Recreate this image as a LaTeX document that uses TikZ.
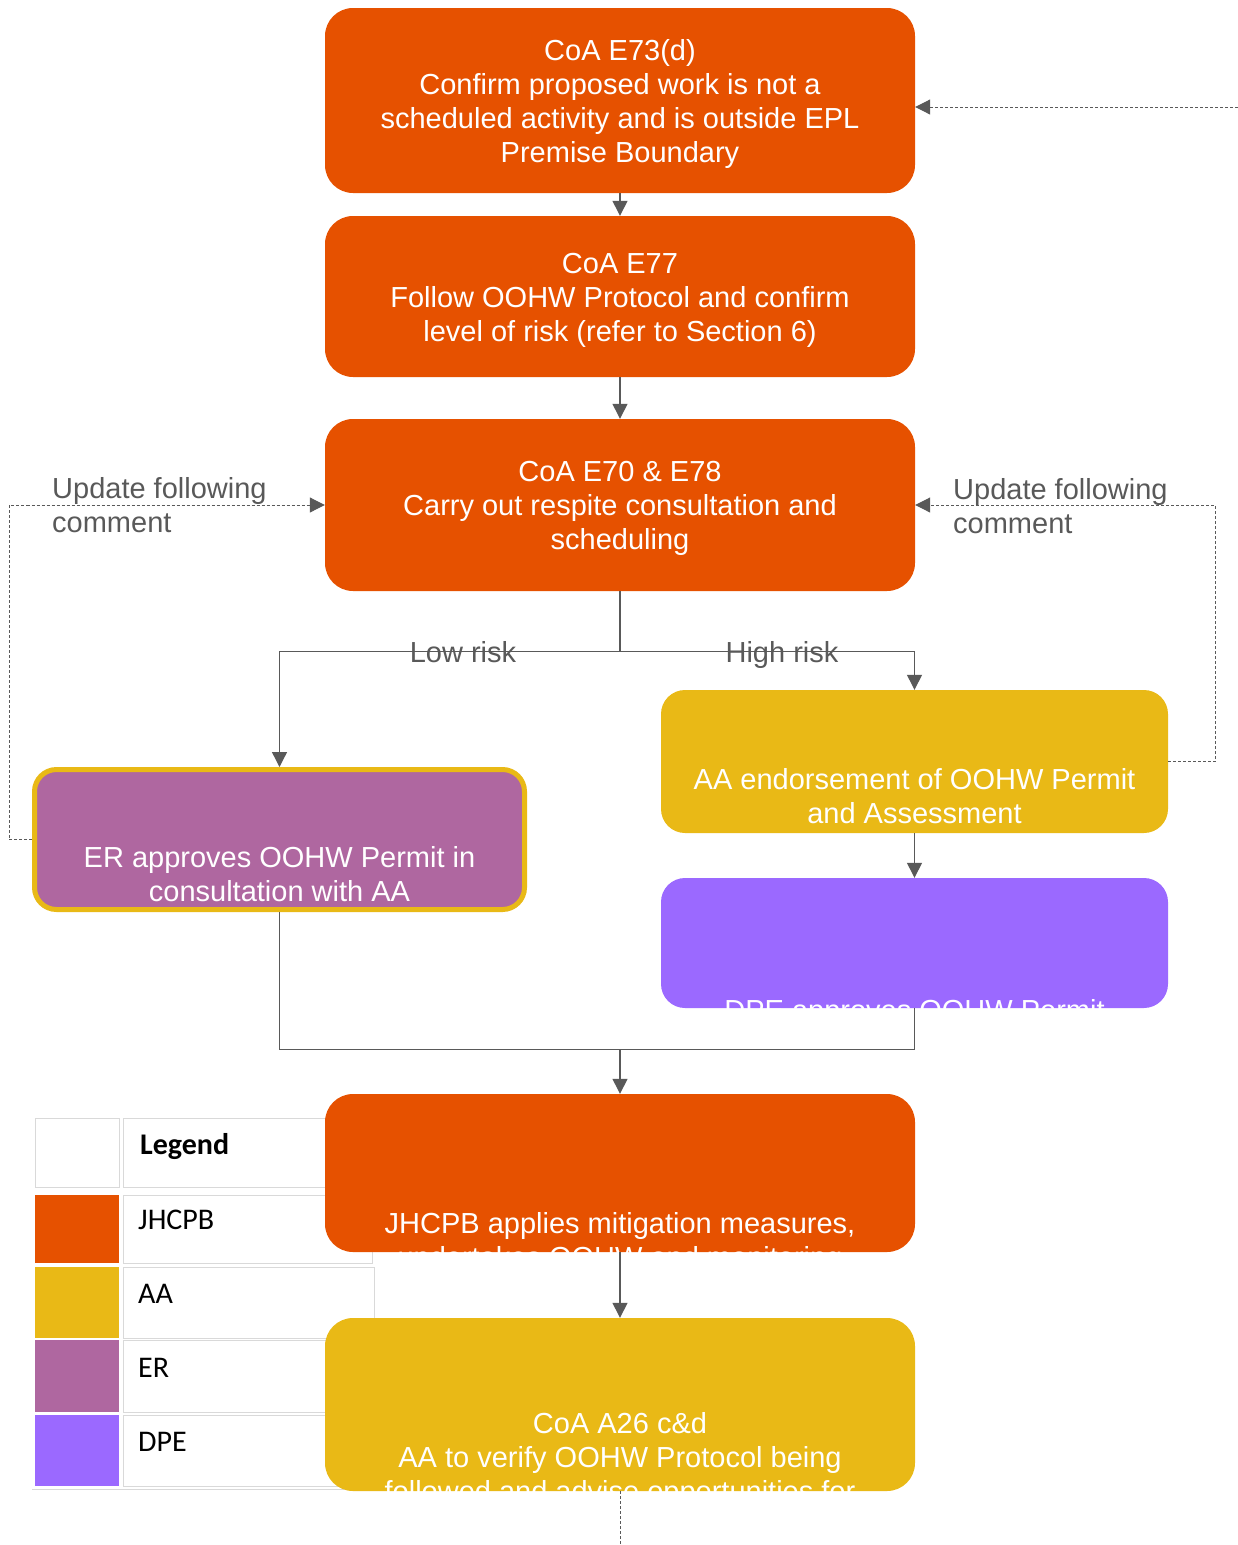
\documentclass[tikz,border=0pt]{standalone}
\usepackage{fontspec}
\setmainfont{Liberation Sans}
\newfontfamily\legfont{Carlito}
\usetikzlibrary{arrows.meta,calc}
\definecolor{jorange}{HTML}{E65100}
\definecolor{aayellow}{HTML}{E9B916}
\definecolor{erpurple}{HTML}{AF67A0}
\definecolor{dpeviolet}{HTML}{9B69FF}
\definecolor{lgrey}{HTML}{595959}
\definecolor{cellgrey}{HTML}{D9D9D9}
\newcommand{\mainfs}{\fontsize{29}{34}\selectfont}
\newcommand{\legfs}{\fontsize{30}{36}\selectfont\legfont}
\begin{document}
\begin{tikzpicture}[x=1pt,y=-1pt,
  box/.style={rounded corners=28pt, minimum width=590pt, inner sep=0pt, align=center, text=white, font=\mainfs},
  intext/.style={text=white, font=\mainfs, align=center, inner sep=0pt},
  conn/.style={draw=lgrey, line width=1.3pt, -{Triangle[width=15pt,length=15pt]}},
  plainline/.style={draw=lgrey, line width=1.3pt},
  dconn/.style={draw=lgrey, line width=1pt, dash pattern=on 3pt off 2pt, -{Triangle[width=15pt,length=15pt]}},
  dline/.style={draw=lgrey, line width=1pt, dash pattern=on 3pt off 2pt},
  greytext/.style={text=lgrey, font=\mainfs, inner sep=0pt},
  cell/.style={draw=cellgrey, line width=1pt},
  legtext/.style={anchor=west, font=\legfs, inner sep=0pt, text=black},
]
\useasboundingbox (0,0) rectangle (1238,1545);

% ---------- legend table (behind the boxes) ----------
\draw[cell] (35,1118) rectangle (119,1187);
\draw[cell] (123,1118) rectangle (345,1187);
\fill[jorange] (35,1195) rectangle (119,1263);
\draw[cell] (123,1195) rectangle (372,1263);
\fill[aayellow] (35,1267) rectangle (119,1338);
\draw[cell] (123,1267) rectangle (374,1338);
\fill[erpurple] (35,1340) rectangle (119,1412);
\draw[cell] (123,1340) rectangle (345,1412);
\fill[dpeviolet] (35,1415) rectangle (119,1486);
\draw[cell] (123,1415) rectangle (345,1486);
\draw[cell] (32,1489) -- (345,1489);
\node[legtext, font=\legfs\bfseries] (legtitle) at (140,1147) {Legend};
\node[legtext] (legj) at (138,1220) {JHCPB};
\node[legtext] (lega) at (138,1294) {AA};
\node[legtext] (lege) at (138,1368) {ER};
\node[legtext] (legd) at (138,1442) {DPE};

\coordinate (rin) at (1238,107);
\coordinate (bot) at (620,1545);
\coordinate (mj) at (620,1049.5);

% ---------- boxes ----------
\node[box, fill=jorange, minimum height=185pt,
  path picture={\node[intext] at ([yshift=-3.5pt]path picture bounding box.center)
    {CoA E73(d)\\Confirm proposed work is not a\\scheduled activity and is outside EPL\\Premise Boundary};}] (b1) at (620,100.5) {};
\node[box, fill=jorange, minimum height=161pt,
  path picture={\node[intext] at ([yshift=-3.5pt]path picture bounding box.center)
    {CoA E77\\Follow OOHW Protocol and confirm\\level of risk (refer to Section 6)};}] (b2) at (620,296.5) {};
\node[box, fill=jorange, minimum height=172pt,
  path picture={\node[intext] at ([yshift=-3.5pt]path picture bounding box.center)
    {CoA E70 \& E78\\Carry out respite consultation and\\scheduling};}] (b3) at (620,505) {};
\node[box, fill=aayellow, minimum width=507pt, minimum height=143pt, rounded corners=24pt,
  path picture={\node[intext] at ([yshift=-35pt]path picture bounding box.center)
    {AA endorsement of OOHW Permit\\and Assessment};}] (aa) at (914.5,761.5) {};
\node[box, fill=erpurple, draw=aayellow, line width=5pt, minimum width=490pt, minimum height=140pt, rounded corners=22pt,
  path picture={\node[intext] at ([yshift=-35pt]path picture bounding box.center)
    {ER approves OOHW Permit in\\consultation with AA};}] (er) at (279.5,839.5) {};
\node[box, fill=dpeviolet, minimum width=507pt, minimum height=130pt, rounded corners=24pt,
  path picture={\node[intext] at ([yshift=-70pt]path picture bounding box.center)
    {DPE approves OOHW Permit};}] (dpe) at (914.5,943) {};
\node[box, fill=jorange, minimum height=158pt,
  path picture={\node[intext] at ([yshift=-70pt]path picture bounding box.center)
    {JHCPB applies mitigation measures,\\undertakes OOHW and monitoring};}] (jh) at (620,1173) {};
\node[box, fill=aayellow, minimum height=173pt,
  path picture={\node[intext] at ([yshift=-55.5pt]path picture bounding box.center)
    {CoA A26 c\&d\\AA to verify OOHW Protocol being\\followed and advise opportunities for};}] (a26) at (620,1404.5) {};

% ---------- connectors ----------
\draw[conn] (b1) -- (b2);
\draw[conn] (b2) -- (b3);
\draw[conn] (b3.south) -- ++(0,60) -| (er.north);
\draw[conn] (b3.south) -- ++(0,60) -| (aa.north);
\draw[conn] (aa) -- (dpe);
\draw[conn] (er.south) |- (mj) -- (jh.north);
\draw[plainline] (dpe.south) |- (mj);
\draw[conn] (jh) -- (a26);
\draw[dline] (a26.south) -- (bot);
\draw[dconn] (rin) -- (b1.east |- rin);
\draw[dconn] (aa.east) -- ++(47,0) |- (b3.east);
\draw[dconn] (er.west) -- ++(-23,0) |- (b3.west);

% ---------- labels ----------
\node[greytext, anchor=base] (low) at (463,662) {Low risk};
\node[greytext, anchor=base] (high) at (782,662) {High risk};
\node[greytext, anchor=west, align=left] (updl) at (52,505) {Update following\\comment};
\node[greytext, anchor=west, align=left] (updr) at (953,506.5) {Update following\\comment};
\end{tikzpicture}
\end{document}
